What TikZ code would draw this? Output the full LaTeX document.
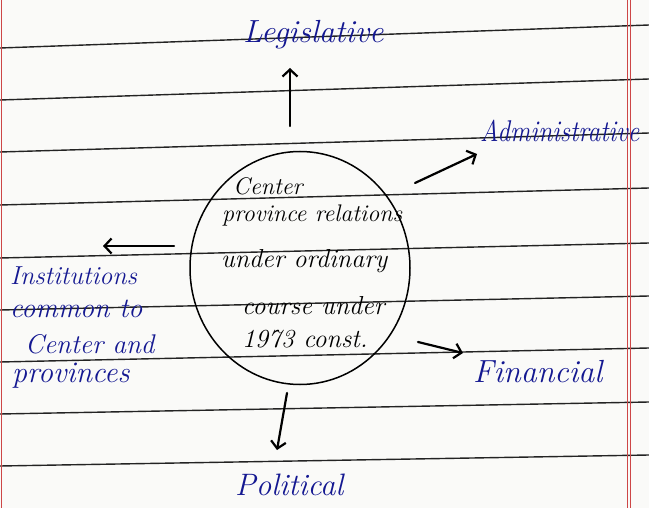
\documentclass[tikz,border=0pt]{standalone}
\usetikzlibrary{arrows.meta,shapes.geometric}
\definecolor{ink}{RGB}{20,24,145}
\definecolor{marginred}{RGB}{205,70,70}
\definecolor{paper}{RGB}{250,250,248}
\definecolor{rule}{RGB}{35,35,35}
\begin{document}
\begin{tikzpicture}[x=1pt,y=-1pt,
  ruleline/.style={rule,line width=1.4pt},
  redline/.style={marginred,line width=0.7pt},
  lbl/.style={ink,font=\fontsize{#1}{#1}\selectfont\itshape,inner sep=0pt,anchor=base west},
  intext/.style={black,font=\fontsize{#1}{#1}\selectfont\itshape,inner sep=0pt,anchor=base west},
  arr/.style={black,line width=2.2pt,line cap=round,-{Straight Barb[length=7pt,width=15pt,line width=2.2pt]}},
  bubble/.style={draw=black,line width=1.5pt,ellipse,minimum width=220pt,minimum height=233pt,inner sep=0pt}]
\fill[paper] (0,0) rectangle (649,508);
\useasboundingbox (0,0) rectangle (649,508);
% ruled lines
\foreach \l/\r in {48/25,100/79,152/133,205/188,258/243,310/296,362/348,414/402,466/455}
  \draw[ruleline] (0,\l) -- (649,\r);
% margins
\draw[redline] (627,0) -- (627,508);
\draw[redline] (630.5,0) -- (630.5,508);
\draw[redline] (1.5,0) -- (1.5,508);
% central bubble
\node[bubble] (circ) at (300,268) {};
\node[intext=24] (c1) at (233,195) {Center};
\node[intext=24] (c2) at (222,222) {province relations};
\node[intext=26] (c3) at (221,268) {under ordinary};
\node[intext=26] (c4) at (242,315) {course under};
\node[intext=26] (c5) at (242,348) {1973 const.};
% labels
\node[lbl=32] (leg) at (243,43) {Legislative};
\node[lbl=30] (adm) at (480,142) {\scalebox{0.85}[1]{Administrative}};
\node[lbl=32] (fin) at (473,382) {Financial};
\node[lbl=31] (pol) at (235,495) {Political};
\node[lbl=26] (ins1) at (10,285) {Institutions};
\node[lbl=28] (ins2) at (10,318) {common to};
\node[lbl=27] (ins3) at (25,353) {Center and};
\node[lbl=30] (ins4) at (12,382) {provinces};
% arrow ends
\coordinate (tLeg) at (290,126);  \coordinate (hLeg) at (290,68);
\coordinate (tAdm) at (415,183);  \coordinate (hAdm) at (477,154);
\coordinate (tIns) at (174,246);  \coordinate (hIns) at (103,246);
\coordinate (tFin) at (418,342);  \coordinate (hFin) at (463,353);
\coordinate (tPol) at (287,393);  \coordinate (hPol) at (277,450);
\draw[arr] (tLeg) -- (hLeg);
\draw[arr] (tAdm) -- (hAdm);
\draw[arr] (tIns) -- (hIns);
\draw[arr] (tFin) -- (hFin);
\draw[arr] (tPol) -- (hPol);
\end{tikzpicture}
\end{document}
